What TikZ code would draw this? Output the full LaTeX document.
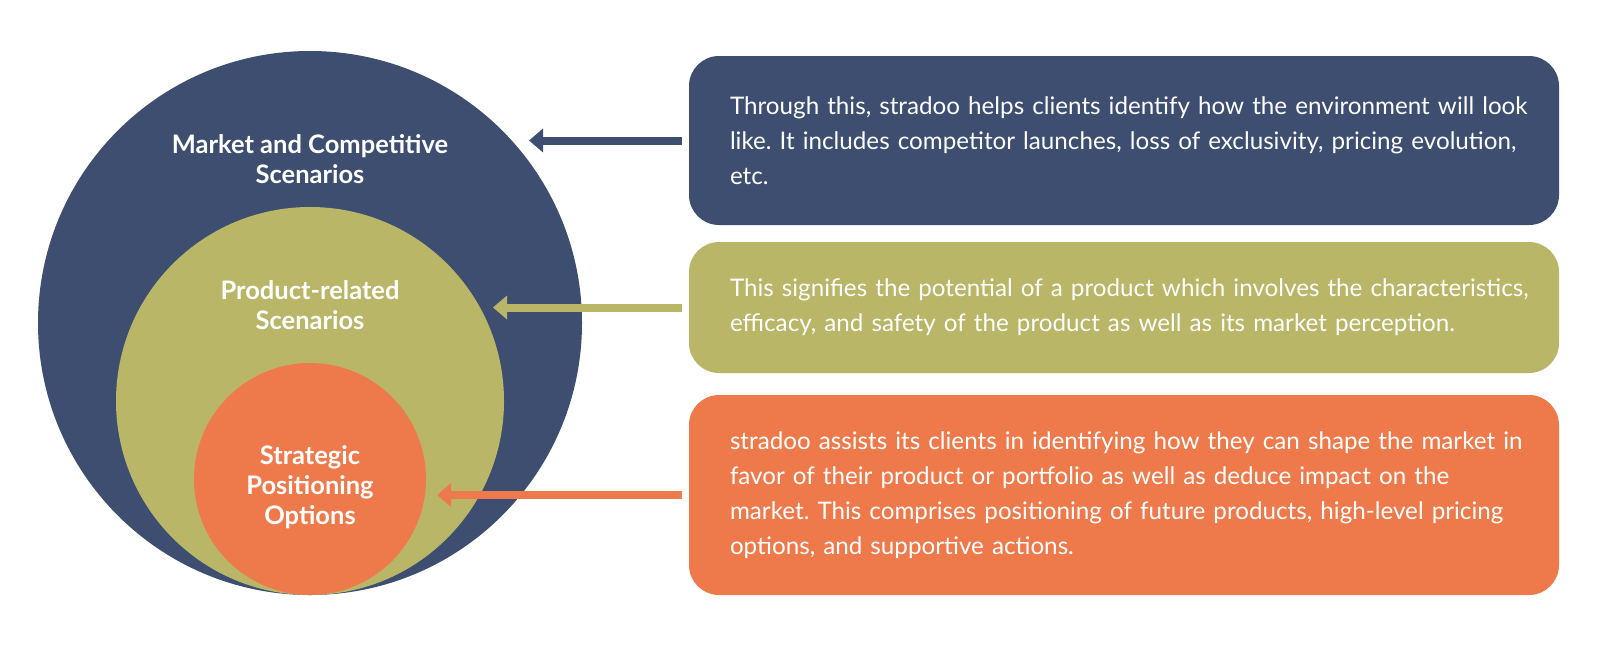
\documentclass[tikz,border=0pt]{standalone}
\usepackage{fontspec}
\setmainfont{Lato}
\usepackage{tikz}
\usetikzlibrary{arrows.meta, positioning}
\frenchspacing
\definecolor{navyblue}{RGB}{61,78,112}
\definecolor{olivegreen}{RGB}{185,182,104}
\definecolor{coralorange}{RGB}{238,122,76}
\tikzset{
  ringnode/.style={circle,inner sep=0pt,draw=none},
  ringlabel/.style={text=white,align=center,font=\fontsize{25.5}{30}\selectfont\bfseries},
  infobox/.style={rectangle,rounded corners=30pt,text width=829pt,
    align=left,text=white,font=\fontsize{24.2}{35}\selectfont,inner xsep=20.5pt},
  pointarr/.style={-{Triangle[length=14pt,width=23pt]},line width=8pt,shorten <=7pt}
}
\newcommand{\boxpad}{\leftskip=20.5pt\relax}
\begin{document}
\begin{tikzpicture}[x=1pt,y=-1pt]
  \useasboundingbox (0,0) rectangle (1600,649);
  % nested scenario circles
  \node[ringnode,fill=navyblue,minimum size=544pt] (outer) at (310,323) {};
  \node[ringnode,fill=olivegreen,minimum size=388pt] (middle) at (310,401) {};
  \node[ringnode,fill=coralorange,minimum size=232pt] (inner) at (310,479) {};
  \node[ringlabel] (outerlbl) at (310,159) {Market and Competitive\\Scenarios};
  \node[ringlabel] (middlelbl) at (310,305) {Product-related\\Scenarios};
  \node[ringlabel] (innerlbl) at (310,487) {Strategic\\Positioning\\Options};
  % description boxes
  \node[infobox,fill=navyblue,minimum height=169pt] (desc1) at (1124,140.5)
      {\boxpad Through this, stradoo helps clients identify how the environment will look\newline
       like. It includes competitor launches, loss of exclusivity, pricing evolution,\newline
       etc.\par};
  \node[infobox,fill=olivegreen,minimum height=131pt] (desc2) at (1124,307.5)
      {\boxpad This signifies the potential of a product which involves the characteristics,\newline
       efficacy, and safety of the product as well as its market perception.\par};
  \node[infobox,fill=coralorange,minimum height=200pt] (desc3) at (1124,495)
      {\boxpad stradoo assists its clients in identifying how they can shape the market in\newline
       favor of their product or portfolio as well as deduce impact on the\newline
       market. This comprises positioning of future products, high-level pricing\newline
       options, and supportive actions.\par};
  % arrow tips
  \coordinate (tip1) at (529,140.5);
  \coordinate (tip2) at (493,307.5);
  \coordinate (tip3) at (437,495);
  \draw[pointarr,navyblue] (desc1.west) -- (tip1);
  \draw[pointarr,olivegreen] (desc2.west) -- (tip2);
  \draw[pointarr,coralorange] (desc3.west) -- (tip3);
\end{tikzpicture}
\end{document}
